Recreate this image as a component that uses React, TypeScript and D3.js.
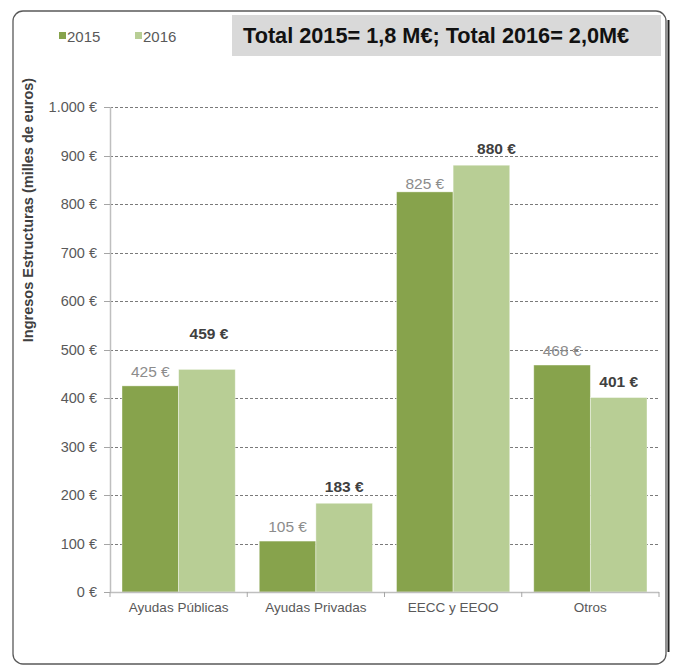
import { useEffect, useRef } from 'react';
import * as d3 from 'd3';

const categories = ['Ayudas Públicas', 'Ayudas Privadas', 'EECC y EEOO', 'Otros'];
const years = ['2015', '2016'];
const values2015 = [425, 105, 825, 468];
const values2016 = [459, 183, 880, 401];
const yTicks = [0, 100, 200, 300, 400, 500, 600, 700, 800, 900, 1000];
const title = 'Total 2015= 1,8 M€; Total 2016= 2,0M€';
const yTitle = 'Ingresos Estructuras (milles de euros)';

const colors = { '2015': '#87A34C', '2016': '#B8CE95' };
const FONT = "'Liberation Sans', Arial, sans-serif";

// hand placed labels in the original
const labelNudge: Record<string, { dx: number; dy: number }> = {
  'Ayudas Públicas|2016': { dx: 2, dy: -19 },
  'EECC y EEOO|2015': { dx: 0, dy: 6 },
  'EECC y EEOO|2016': { dx: 15, dy: 0 },
};

const fmt = (v: number) => d3.format(',')(v).replace(/,/g, '.') + ' €';

const App = () => {
  const svgRef = useRef<SVGSVGElement>(null);

  useEffect(() => {
    const width = 673;
    const height = 666;
    const margin = { top: 107, right: 14, bottom: 74, left: 110 };

    const svg = d3.select(svgRef.current).attr('width', width).attr('height', height);
    svg.selectAll('*').remove();

    // frame
    svg.append('line')
      .attr('x1', 668.5).attr('x2', 668.5).attr('y1', 20).attr('y2', 652)
      .attr('stroke', '#222').attr('stroke-width', 2);
    svg.append('rect')
      .attr('x', 13).attr('y', 11).attr('width', 653).attr('height', 653)
      .attr('rx', 10).attr('fill', '#fff')
      .attr('stroke', '#595959').attr('stroke-width', 1.3);

    const x0 = d3.scaleBand()
      .domain(categories)
      .range([margin.left, width - margin.right])
      .paddingInner(0.175)
      .paddingOuter(0.0875);
    const x1 = d3.scaleBand().domain(years).range([0, x0.bandwidth()]);
    const y = d3.scaleLinear().domain([0, 1000]).range([height - margin.bottom, margin.top]);

    const x0Edge = margin.left;
    const xRight = width - margin.right;
    const step = x0.step();

    // grid
    svg.append('g')
      .selectAll('line')
      .data(yTicks.filter(t => t > 0))
      .join('line')
      .attr('x1', x0Edge).attr('x2', xRight)
      .attr('y1', d => Math.round(y(d)) + 0.5).attr('y2', d => Math.round(y(d)) + 0.5)
      .attr('stroke', '#7a7a7a').attr('stroke-dasharray', '3,2');

    // bars
    const series = [
      { year: '2015', values: values2015 },
      { year: '2016', values: values2016 },
    ];
    const rows = series.flatMap(s =>
      s.values.map((v, i) => ({ year: s.year, cat: categories[i], value: v }))
    );

    svg.append('g')
      .selectAll('rect')
      .data(rows)
      .join('rect')
      .attr('x', d => (x0(d.cat) ?? 0) + (x1(d.year) ?? 0))
      .attr('y', d => y(d.value))
      .attr('width', x1.bandwidth())
      .attr('height', d => y(0) - y(d.value))
      .attr('fill', d => colors[d.year as '2015' | '2016'])
      .attr('stroke', '#fff').attr('stroke-opacity', 0.5).attr('stroke-width', 0.8);

    // y axis
    const yAxis = svg.append('g');
    yAxis.append('line')
      .attr('x1', x0Edge + 0.5).attr('x2', x0Edge + 0.5)
      .attr('y1', y(1000)).attr('y2', y(0))
      .attr('stroke', '#BFBFBF').attr('stroke-width', 1.5);
    yAxis.selectAll('line.tick')
      .data(yTicks)
      .join('line')
      .attr('class', 'tick')
      .attr('x1', x0Edge - 6).attr('x2', x0Edge)
      .attr('y1', d => Math.round(y(d)) + 0.5).attr('y2', d => Math.round(y(d)) + 0.5)
      .attr('stroke', '#A6A6A6');
    yAxis.selectAll('text')
      .data(yTicks)
      .join('text')
      .attr('x', 97)
      .attr('y', d => y(d) + 5)
      .attr('text-anchor', 'end')
      .attr('font-family', FONT).attr('font-size', 14.5)
      .attr('fill', '#595959')
      .text(d => fmt(d));

    // x axis
    const xAxis = svg.append('g');
    xAxis.append('line')
      .attr('x1', x0Edge).attr('x2', xRight)
      .attr('y1', y(0) + 0.5).attr('y2', y(0) + 0.5)
      .attr('stroke', '#BFBFBF').attr('stroke-width', 1.5);
    xAxis.selectAll('line.tick')
      .data(d3.range(categories.length + 1))
      .join('line')
      .attr('class', 'tick')
      .attr('x1', i => x0Edge + i * step).attr('x2', i => x0Edge + i * step)
      .attr('y1', y(0)).attr('y2', y(0) + 5)
      .attr('stroke', '#A6A6A6');
    xAxis.selectAll('text')
      .data(categories)
      .join('text')
      .attr('x', d => (x0(d) ?? 0) + x0.bandwidth() / 2)
      .attr('y', y(0) + 20)
      .attr('text-anchor', 'middle')
      .attr('font-family', FONT).attr('font-size', 13.5)
      .attr('fill', '#595959')
      .text(d => d);

    // value labels
    svg.append('g')
      .selectAll('text')
      .data(rows)
      .join('text')
      .attr('x', d => (x0(d.cat) ?? 0) + (x1(d.year) ?? 0) + x1.bandwidth() / 2 + (labelNudge[d.cat + '|' + d.year]?.dx ?? 0))
      .attr('y', d => y(d.value) - (d.year === '2015' ? 9 : 11) + (labelNudge[d.cat + '|' + d.year]?.dy ?? 0))
      .attr('text-anchor', 'middle')
      .attr('font-family', FONT).attr('font-size', 15.5)
      .attr('font-weight', d => (d.year === '2016' ? 'bold' : 'normal'))
      .attr('fill', d => (d.year === '2016' ? '#404040' : '#8C8C8C'))
      .text(d => fmt(d.value));

    // y title
    svg.append('text')
      .attr('transform', 'translate(33,210) rotate(-90)')
      .attr('text-anchor', 'middle')
      .attr('font-family', FONT).attr('font-size', 14.5)
      .attr('font-weight', 'bold')
      .attr('fill', '#404040')
      .text(yTitle);

    // legend
    const legendX = [59, 135];
    const legend = svg.append('g');
    legend.selectAll('rect')
      .data(years)
      .join('rect')
      .attr('x', (_, i) => legendX[i]).attr('y', 32)
      .attr('width', 7).attr('height', 7)
      .attr('fill', d => colors[d as '2015' | '2016']);
    legend.selectAll('text')
      .data(years)
      .join('text')
      .attr('x', (_, i) => legendX[i] + 8).attr('y', 42)
      .attr('font-family', FONT).attr('font-size', 15)
      .attr('fill', '#595959')
      .text(d => d);

    // title box
    svg.append('rect')
      .attr('x', 232).attr('y', 15).attr('width', 429).attr('height', 41)
      .attr('fill', '#D9D9D9');
    svg.append('text')
      .attr('x', 243).attr('y', 43)
      .attr('font-family', FONT).attr('font-size', 21.7)
      .attr('font-weight', 'bold')
      .attr('fill', '#111')
      .text(title);
  }, []);

  return (
    <svg ref={svgRef} style={{ position: 'absolute', left: 0, top: 0, display: 'block' }}></svg>
  );
};

export default App;
